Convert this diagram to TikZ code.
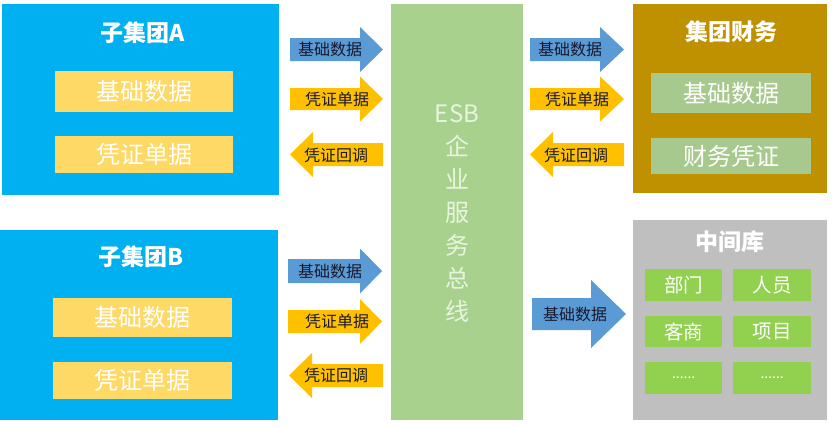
\documentclass[tikz,border=0pt]{standalone}
\usepackage{fontspec}
\setmainfont{Noto Sans CJK SC}
\definecolor{subblue}{RGB}{0,176,240}
\definecolor{inyellow}{RGB}{255,217,102}
\definecolor{esbgreen}{RGB}{169,209,142}
\definecolor{esbtext}{RGB}{232,244,224}
\definecolor{finbrown}{RGB}{191,144,0}
\definecolor{fininner}{RGB}{168,201,142}
\definecolor{midgray}{RGB}{191,191,191}
\definecolor{midgreen}{RGB}{146,208,80}
\definecolor{arrblue}{RGB}{91,155,213}
\definecolor{arryellow}{RGB}{255,192,0}
\definecolor{labeldark}{RGB}{25,25,45}
\newcommand\rarrow[6]{% left x, head x, tip x, mid y, body half, colour
  \fill[#6] (#1,#4-#5) -- (#2,#4-#5) -- (#2,#4-22.5) -- (#3,#4) -- (#2,#4+22.5) -- (#2,#4+#5) -- (#1,#4+#5) -- cycle;}
\newcommand\larrow[6]{% tip x, head x, right x, mid y, body half, colour
  \fill[#6] (#3,#4-#5) -- (#2,#4-#5) -- (#2,#4-22.5) -- (#1,#4) -- (#2,#4+22.5) -- (#2,#4+#5) -- (#3,#4+#5) -- cycle;}
\tikzset{
  box/.style={rectangle, inner sep=0pt, anchor=north west},
  title/.style={font=\fontsize{23}{26}\selectfont\bfseries, text=white},
  intext/.style={font=\fontsize{24}{28}\selectfont, text=white},
  smalltext/.style={font=\fontsize{19.5}{22}\selectfont, text=white},
  arrlabel/.style={font=\fontsize{16}{18}\selectfont, text=labeldark},
  dots/.style={font=\fontsize{14}{16}\selectfont, text=white},
}
\begin{document}
\begin{tikzpicture}[x=1pt,y=-1pt]
\useasboundingbox (0,0) rectangle (832,426);
\fill[white] (0,0) rectangle (832,426);
% sub group A
\node[box, fill=subblue, minimum width=277, minimum height=191] (A) at (2,4) {};
\node[title] (Atitle) at (143,33) {子集团A};
\node[box, fill=inyellow, minimum width=178, minimum height=41] (Abase) at (55,71) {};
\node[intext] (Abaset) at (Abase.center) {基础数据};
\node[box, fill=inyellow, minimum width=178, minimum height=37] (Avou) at (55,136) {};
\node[intext] (Avout) at (Avou.center) {凭证单据};
% sub group B
\node[box, fill=subblue, minimum width=278, minimum height=190] (B) at (0,230) {};
\node[title] (Btitle) at (141,257) {子集团B};
\node[box, fill=inyellow, minimum width=179, minimum height=39] (Bbase) at (53,298) {};
\node[intext] (Bbaset) at (Bbase.center) {基础数据};
\node[box, fill=inyellow, minimum width=179, minimum height=37] (Bvou) at (53,362) {};
\node[intext] (Bvout) at (Bvou.center) {凭证单据};
% ESB
\node[box, fill=esbgreen, minimum width=132, minimum height=416] (ESB) at (391,4) {};
\node[text=esbtext, font=\fontsize{24}{33}\selectfont, align=center] (ESBt) at (457,213) {ESB\\企\\业\\服\\务\\总\\线};
% finance
\node[box, fill=finbrown, minimum width=194, minimum height=189] (F) at (633,4) {};
\node[title] (Ftitle) at (731,32) {集团财务};
\node[box, fill=fininner, minimum width=160, minimum height=40] (Fbase) at (651,73) {};
\node[intext] (Fbaset) at (Fbase.center) {基础数据};
\node[box, fill=fininner, minimum width=160, minimum height=36] (Fvou) at (651,138) {};
\node[intext] (Fvout) at (Fvou.center) {财务凭证};
% middle db
\node[box, fill=midgray, minimum width=194, minimum height=200] (M) at (633,220) {};
\node[title] (Mtitle) at (730,242) {中间库};
\node[box, fill=midgreen, minimum width=77, minimum height=32] (M1) at (645,269) {};
\node[smalltext] (M1t) at (M1.center) {部门};
\node[box, fill=midgreen, minimum width=78, minimum height=32] (M2) at (733,269) {};
\node[smalltext] (M2t) at (M2.center) {人员};
\node[box, fill=midgreen, minimum width=77, minimum height=31] (M3) at (645,316) {};
\node[smalltext] (M3t) at (M3.center) {客商};
\node[box, fill=midgreen, minimum width=78, minimum height=31] (M4) at (733,316) {};
\node[smalltext] (M4t) at (M4.center) {项目};
\node[box, fill=midgreen, minimum width=77, minimum height=32] (M5) at (645,362) {};
\node[dots] (M5t) at (M5.center) {......};
\node[box, fill=midgreen, minimum width=78, minimum height=32] (M6) at (733,362) {};
\node[dots] (M6t) at (M6.center) {......};
% arrows top left
\rarrow{290}{360}{383}{49.5}{11.5}{arrblue}
\node[arrlabel] (l1) at (330,49) {基础数据};
\rarrow{290}{360}{383}{99}{11}{arryellow}
\node[arrlabel] (l2) at (337,99) {凭证单据};
\larrow{290}{313}{383}{154.5}{11.5}{arryellow}
\node[arrlabel] (l3) at (336,155) {凭证回调};
% arrows bottom left
\rarrow{288}{360}{382}{271}{12}{arrblue}
\node[arrlabel] (l4) at (330,271) {基础数据};
\rarrow{288}{360}{382}{321.5}{11.5}{arryellow}
\node[arrlabel] (l5) at (337,321.5) {凭证单据};
\larrow{289}{312}{383}{375.5}{11.5}{arryellow}
\node[arrlabel] (l6) at (336,375.5) {凭证回调};
% arrows top right
\rarrow{530}{600}{624}{49.5}{11.5}{arrblue}
\node[arrlabel] (r1) at (570,49) {基础数据};
\rarrow{530}{600}{624}{99}{11}{arryellow}
\node[arrlabel] (r2) at (577,99) {凭证单据};
\larrow{530}{553}{624}{154.5}{11.5}{arryellow}
\node[arrlabel] (r3) at (576,155) {凭证回调};
% bottom right big arrow
\fill[arrblue] (532,298) -- (591,298) -- (591,280) -- (626,314) -- (591,348) -- (591,330) -- (532,330) -- cycle;
\node[arrlabel] (r4) at (575,314) {基础数据};
\end{tikzpicture}
\end{document}
